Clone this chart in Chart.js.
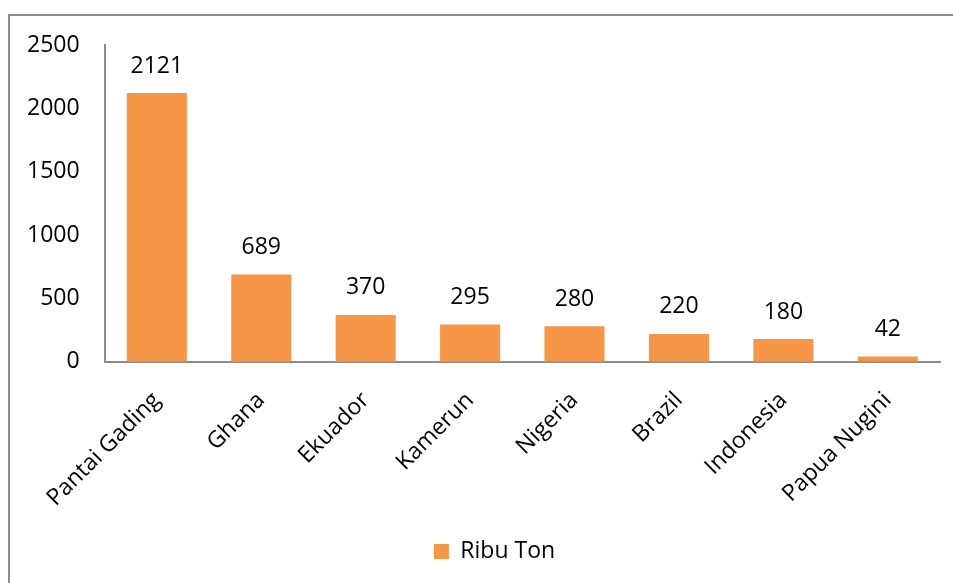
<!DOCTYPE html>
<html>
<head>
    <script src="https://cdn.jsdelivr.net/npm/chart.js@4/dist/chart.umd.min.js"></script>
    <style>
        body {
            margin: 0;
            background: white;
            overflow: hidden;
        }
        .frame {
            position: absolute;
            left: 8px;
            top: 14px;
            width: 960px;
            height: 600px;
            border-left: 2px solid #8c8c8c;
            border-top: 2px solid #8c8c8c;
        }
        .chart-box {
            position: absolute;
            left: 0;
            top: 0;
            width: 943px;
            height: 567px;
        }
    </style>
</head>
<body>
    <div class="frame">
        <div class="chart-box">
            <canvas id="cocoaChart"></canvas>
        </div>
    </div>

    <script>
        // Data produksi (ribu ton)
        const negara = ['Pantai Gading', 'Ghana', 'Ekuador', 'Kamerun', 'Nigeria', 'Brazil', 'Indonesia', 'Papua Nugini'];
        const ribuTon = [2121, 689, 370, 295, 280, 220, 180, 42];
        const yTicks = [0, 500, 1000, 1500, 2000, 2500];

        const fontFamily = '"Open Sans", sans-serif';
        const fontSize = 23;

        // Tulis nilai di atas batang
        const valueLabels = {
            id: 'valueLabels',
            afterLayout(chart) {
                // geser legenda sedikit ke kanan
                chart.legend.left += 11;
                chart.legend.right += 11;
            },
            afterDatasetsDraw(chart) {
                const ctx = chart.ctx;
                const meta = chart.getDatasetMeta(0);
                ctx.save();
                ctx.font = fontSize + 'px ' + fontFamily;
                ctx.fillStyle = '#000';
                ctx.textAlign = 'center';
                ctx.textBaseline = 'middle';
                meta.data.forEach((bar, i) => {
                    ctx.fillText(ribuTon[i], bar.x, bar.y - 27);
                });
                ctx.restore();
            }
        };

        new Chart(document.getElementById('cocoaChart'), {
            type: 'bar',
            data: {
                labels: negara,
                datasets: [{
                    label: 'Ribu Ton',
                    data: ribuTon,
                    backgroundColor: '#F79646',
                    barPercentage: 0.575,
                    categoryPercentage: 1
                }]
            },
            options: {
                responsive: true,
                maintainAspectRatio: false,
                animation: false,
                layout: {
                    padding: { top: 29, right: 13, left: 17, bottom: 10 }
                },
                scales: {
                    y: {
                        min: 0,
                        max: 2500,
                        afterBuildTicks: axis => {
                            axis.ticks = yTicks.map(v => ({ value: v }));
                        },
                        // padding dihitung dua kali oleh Chart.js, buang satu
                        afterFit: axis => {
                            axis.width -= 25;
                            axis.paddingTop = 0;
                        },
                        grid: { display: false, drawTicks: false },
                        border: { display: true, color: '#8c8c8c', width: 2 },
                        ticks: {
                            color: '#000',
                            padding: 25,
                            callback: v => String(v),
                            font: { size: fontSize, family: fontFamily }
                        }
                    },
                    x: {
                        afterFit: axis => {
                            axis.paddingLeft = 0;
                            axis.paddingRight = 0;
                            axis.height -= 21;
                        },
                        grid: { display: false, drawTicks: false },
                        border: { display: true, color: '#8c8c8c', width: 2 },
                        ticks: {
                            color: '#000',
                            minRotation: 45,
                            maxRotation: 45,
                            padding: 25,
                            font: { size: fontSize, family: fontFamily }
                        }
                    }
                },
                plugins: {
                    legend: {
                        position: 'bottom',
                        labels: {
                            color: '#000',
                            boxWidth: 15,
                            boxHeight: 15,
                            padding: 24,
                            font: { size: fontSize, family: fontFamily }
                        }
                    },
                    tooltip: { enabled: false }
                }
            },
            plugins: [valueLabels]
        });
    </script>
</body>
</html>
